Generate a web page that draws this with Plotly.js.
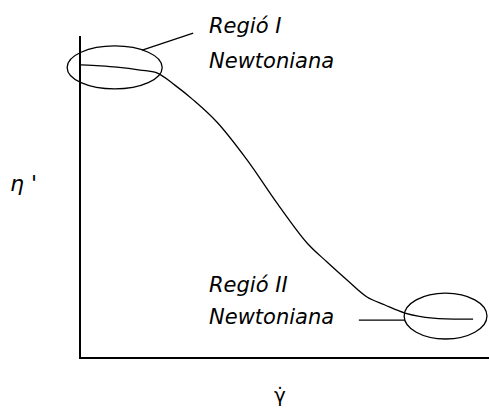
<!DOCTYPE html>
<html>
<head>
<meta charset="utf-8">
<script src="https://cdn.plot.ly/plotly-3.0.1.min.js"></script>
<style>
  html, body { margin: 0; padding: 0; background: #fff; }
  #chart { width: 489px; height: 412px; }
</style>
</head>
<body>
<div id="chart"></div>
<script>
// Flow curve: apparent viscosity vs shear rate (arbitrary units 0..10)
const shearRate = [0, 0.47, 0.88, 1.45, 1.86, 2.30, 2.75, 3.33, 4.07, 4.80, 5.54, 6.03, 6.52, 7.01, 7.45, 7.94, 8.63, 9.61];
const viscosity = [9.10, 9.07, 9.03, 8.94, 8.85, 8.47, 8.01, 7.32, 6.14, 4.80, 3.55, 2.96, 2.40, 1.87, 1.62, 1.37, 1.21, 1.18];

// Newtonian plateaus highlighted with ellipses: [x0, x1, y0, y1]
const regionI  = [-0.34, 1.99, 8.35, 9.69];
const regionII = [7.92, 9.95, 0.56, 1.99];
// Leader lines from the labels to the ellipses: [x0, y0, x1, y1]
const leaderI  = [1.50, 9.56, 2.75, 10.09];
const leaderII = [6.81, 1.15, 7.94, 1.15];

const regionLabels = ['Regió I', 'Newtoniana', 'Regió II', 'Newtoniana'];
const axisLabels = ['η \'', 'γ\u0307'];

const xRange = [0, 10];
const yRange = [0, 10];
// data -> paper fractions, so the outlines may extend past the axes
const px = v => (v - xRange[0]) / (xRange[1] - xRange[0]);
const py = v => (v - yRange[0]) / (yRange[1] - yRange[0]);

const ink = '#000';
const ellipse = r => ({
  type: 'circle', xref: 'paper', yref: 'paper',
  x0: px(r[0]), x1: px(r[1]), y0: py(r[2]), y1: py(r[3]),
  line: { color: ink, width: 1.3 }
});
const leader = l => ({
  type: 'line', xref: 'paper', yref: 'paper',
  x0: px(l[0]), y0: py(l[1]), x1: px(l[2]), y1: py(l[3]),
  line: { color: ink, width: 1.3 }
});

const labelFont = { family: 'DejaVu Sans', size: 21, color: ink, style: 'italic' };
const label = (text, x, y) => ({
  text: text, xref: 'paper', yref: 'paper', x: x, y: y,
  xanchor: 'left', yanchor: 'middle', showarrow: false, font: labelFont
});

const trace = {
  x: shearRate, y: viscosity, type: 'scatter', mode: 'lines',
  line: { color: ink, width: 1.3, shape: 'spline', smoothing: 1 },
  hoverinfo: 'skip'
};

const layout = {
  width: 489, height: 412,
  margin: { l: 81, r: 0, t: 36, b: 55, pad: 0 },
  paper_bgcolor: '#fff', plot_bgcolor: '#fff',
  showlegend: false,
  xaxis: { range: xRange, showline: true, linecolor: ink, linewidth: 2,
           showgrid: false, zeroline: false, ticks: '', showticklabels: false, fixedrange: true },
  yaxis: { range: yRange, showline: true, linecolor: ink, linewidth: 2,
           showgrid: false, zeroline: false, ticks: '', showticklabels: false, fixedrange: true },
  shapes: [ellipse(regionI), ellipse(regionII), leader(leaderI), leader(leaderII)],
  annotations: [
    label(regionLabels[0], 0.31, 1.031),
    label(regionLabels[1], 0.31, 0.922),
    label(regionLabels[2], 0.31, 0.224),
    label(regionLabels[3], 0.31, 0.125),
    { text: axisLabels[0], xref: 'paper', yref: 'paper', x: -0.140, y: 0.539,
      xanchor: 'center', yanchor: 'middle', showarrow: false,
      font: { family: 'DejaVu Sans', size: 22, color: ink, style: 'italic' } },
    { text: axisLabels[1], xref: 'paper', yref: 'paper', x: 0.488, y: -0.118,
      xanchor: 'center', yanchor: 'middle', showarrow: false,
      font: { family: 'DejaVu Sans', size: 20, color: ink } }
  ]
};

Plotly.newPlot('chart', [trace], layout, { staticPlot: true, displayModeBar: false });
</script>
</body>
</html>
